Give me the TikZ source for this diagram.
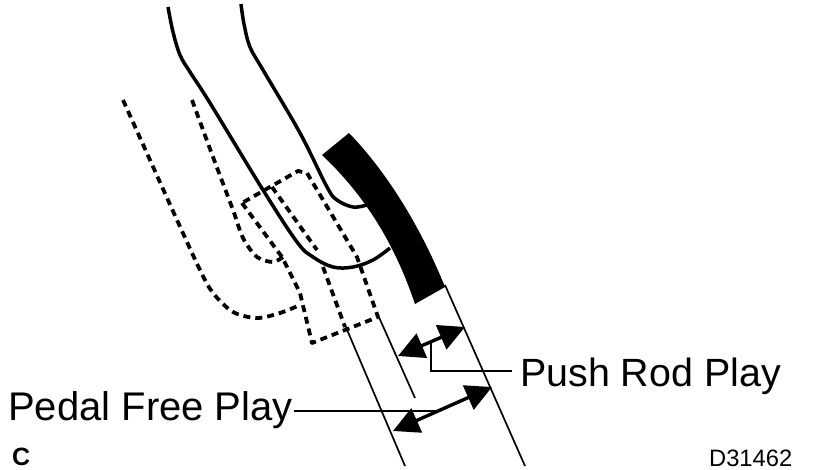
\documentclass[tikz,border=0pt]{standalone}
\usepackage{fontspec}
\setmainfont{Liberation Sans}
\usetikzlibrary{arrows.meta}
\tikzset{
 solidline/.style={line width=3.5pt,line join=round},
 dashline/.style={line width=3.8pt,dash pattern=on 7pt off 5pt},
 thinline/.style={line width=1.7pt},
 dim/.style={line width=3.4pt,{Triangle[length=26pt,width=26pt]}-{Triangle[length=26pt,width=26pt]}},
 lab/.style={inner sep=0pt,font=\fontsize{40}{40}\selectfont,anchor=base west}
}
\begin{document}
\begin{tikzpicture}[x=1pt,y=-1pt]
\useasboundingbox (0,0) rectangle (816,470);
% solid outlines
\draw[solidline] plot[smooth,tension=0.6] coordinates {(168,7)(173,32)(180,55)(190,72)(210,103)(263,190)(297,242)(313,257)(333,267)(353,267)(373,260)(390,248)};
\draw[solidline] plot[smooth,tension=0.6] coordinates {(241,4)(244,24)(250,47)(263,70)(300,133)(327,187)(337,200)(353,207)(367,205)};
% black plate
\fill[black] (322,155) -- (349,133) .. controls (385,170) and (420,225) .. (445,287) -- (415,304) .. controls (400,260) and (375,205) .. (322,155) -- cycle;
% dashed outlines
\draw[dashline] plot[smooth,tension=0.5] coordinates {(123,100)(150,160)(177,220)(200,270)(213,293)(233,312)(257,318)(280,313)(300,305)};
\draw[dashline] plot[smooth,tension=0.5] coordinates {(192,100)(213,157)(233,210)(243,238)(257,257)(273,262)(283,257)};
\draw[dashline,line join=round] (242,203) -- (282,257) -- (300,293) -- (312,343) -- (378,317) -- (357,257) -- (307,173) -- (298,171) -- cycle;
\draw[dashline] (272,187) -- (317,250);
\draw[dashline] (323,267) -- (345,327);
% thin lines
\coordinate (a1) at (345,325); \coordinate (a2) at (405,466);
\coordinate (b1) at (378,315); \coordinate (b2) at (415,398);
\coordinate (c1) at (445,285); \coordinate (c2) at (525,466);
\draw[thinline] (a1) -- (a2);
\draw[thinline] (b1) -- (b2);
\draw[thinline] (c1) -- (c2);
% dimension arrows
\coordinate (p1) at (398,356); \coordinate (p2) at (465,327);
\coordinate (q1) at (393,431); \coordinate (q2) at (492,387);
\draw[dim] (p1) -- (p2);
\draw[dim] (q1) -- (q2);
% labels
\node[lab] (pf) at (8,420) {Pedal Free Play};
\node[lab,font=\fontsize{39.4}{40}\selectfont] (pr) at (520,386) {Push Rod Play};
\node[inner sep=0pt,anchor=base west,font=\fontsize{25}{25}\selectfont\bfseries] (cc) at (12,465) {C};
\node[inner sep=0pt,anchor=base west,font=\fontsize{23.7}{24}\selectfont] (dn) at (709,466) {D31462};
% leaders
\coordinate (l1) at (431,342); \coordinate (l2) at (431,371); \coordinate (l3) at (512,371);
\coordinate (m2) at (437,411);
\draw[line width=1.9pt] (l1) -- (l2) -- (l3);
\draw[line width=1.9pt] (pf.base east |- m2) ++(1,0) -- (m2);
\end{tikzpicture}
\end{document}
